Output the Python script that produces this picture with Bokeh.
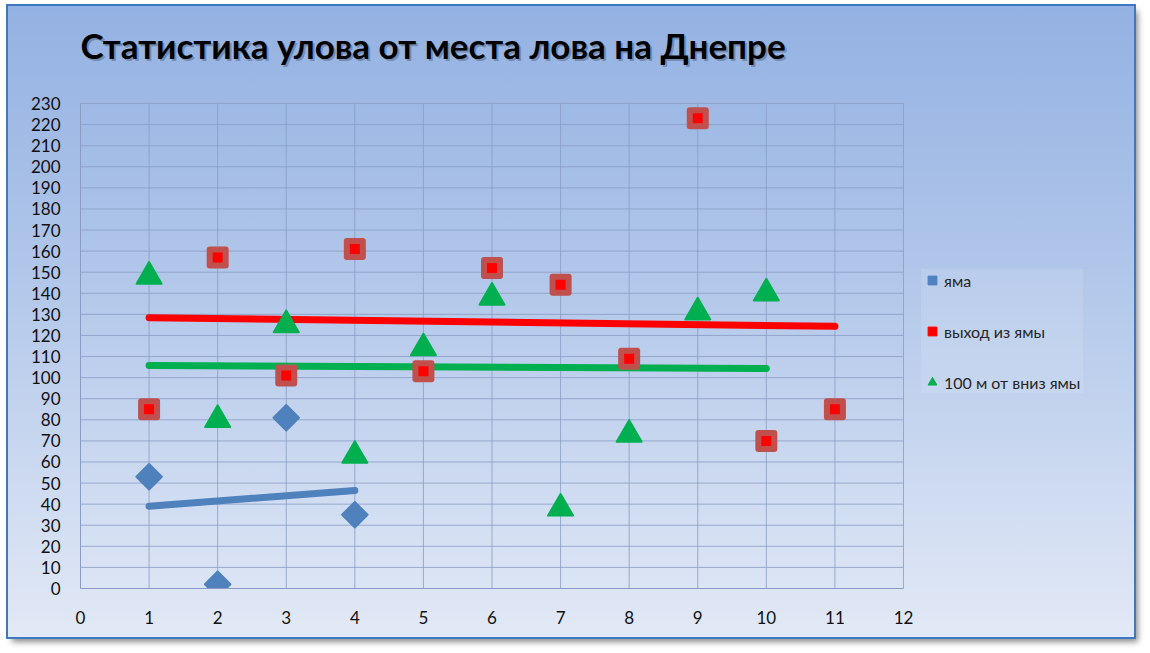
import numpy as np
from bokeh.plotting import figure
from bokeh.models import Range1d, FixedTicker, Legend, LegendItem, Label
from bokeh.embed import file_html
from bokeh.resources import INLINE

title_text = "Статистика улова от места лова на Днепре"

x_ticks = list(range(0, 13))
y_ticks = list(range(0, 231, 10))

yama_x = [1, 2, 3, 4]
yama_y = [53, 2, 81, 35]

vyhod_x = [1, 2, 3, 4, 5, 6, 7, 8, 9, 10, 11]
vyhod_y = [85, 157, 101, 161, 103, 152, 144, 109, 223, 70, 85]

niz_x = [1, 2, 3, 4, 5, 6, 7, 8, 9, 10]
niz_y = [148, 80, 125, 63, 114, 138, 38, 73, 131, 140]

names = ["яма", "выход из ямы", "100 м от вниз ямы"]

BLUE = "#4f81bd"
RED = "#ff0000"
RED_EDGE = "#c0504d"
GREEN = "#00b050"
GRID = "#8a9cc4"
FONT = "Lato"

# layout: the gridded area is 823 x 485 px; the frame extends further right (legend)
# and further up (title) so that these are not clipped
W, H = 1126, 631
LEFT, RIGHT, TOP, BOTTOM = 72, 14, 10, 49
GRID_W, GRID_H = 823, 485
FRAME_W = W - LEFT - RIGHT
FRAME_H = H - TOP - BOTTOM
X_MAX = x_ticks[-1]
Y_MAX = y_ticks[-1]
x_end = X_MAX * FRAME_W / GRID_W
y_end = Y_MAX * FRAME_H / GRID_H

p = figure(width=W, height=H, output_backend="svg", toolbar_location=None,
           x_range=Range1d(0, x_end), y_range=Range1d(0, y_end),
           min_border_left=LEFT, min_border_right=RIGHT, min_border_top=TOP, min_border_bottom=BOTTOM)
p.background_fill_color = None
p.border_fill_color = None
p.outline_line_color = None
p.styles = {
    "margin": "6px 0 0 8px",
    "background": "linear-gradient(to bottom, #93b1e2 0%, #b3c8ea 45%, #e2e9f6 100%)",
    "outline": "2px solid #3f78c2",
    "box-shadow": "4px 5px 6px rgba(0,0,0,0.45)",
}

for ax in (p.xaxis[0], p.yaxis[0]):
    ax.major_tick_line_color = None
    ax.minor_tick_line_color = None
    ax.axis_line_color = GRID
    ax.major_label_text_font = FONT
    ax.major_label_text_font_size = "17px"
    ax.major_label_text_color = "#111111"
p.xaxis.ticker = FixedTicker(ticks=x_ticks)
p.xaxis.bounds = (0, X_MAX)
p.yaxis.ticker = FixedTicker(ticks=y_ticks)
p.yaxis.bounds = (0, Y_MAX)
p.xaxis.major_label_standoff = 16
p.yaxis.major_label_standoff = 14

p.xgrid.visible = False
p.ygrid.visible = False
# grid lines only across the gridded area
p.segment(x0=[x_ticks[0]] * len(y_ticks), y0=y_ticks, x1=[X_MAX] * len(y_ticks), y1=y_ticks,
          line_color=GRID, line_alpha=0.8, line_width=1)
p.segment(x0=x_ticks, y0=[y_ticks[0]] * len(x_ticks), x1=x_ticks, y1=[Y_MAX] * len(x_ticks),
          line_color=GRID, line_alpha=0.8, line_width=1)

# linear trend lines fitted to each series
def trend(xs, ys):
    k, b = np.polyfit(xs, ys, 1)
    xx = [min(xs), max(xs)]
    return xx, [k * v + b for v in xx]

for xs, ys, c in ((yama_x, yama_y, BLUE), (vyhod_x, vyhod_y, RED), (niz_x, niz_y, GREEN)):
    tx, ty = trend(xs, ys)
    p.line(tx, ty, line_color=c, line_width=7, line_cap="round")

# points
p.scatter(yama_x, yama_y, marker="square", angle=np.pi / 4, size=18,
          fill_color=BLUE, line_color=BLUE, line_width=2, line_join="round")
p.scatter(vyhod_x, vyhod_y, marker="square", size=16, fill_color=RED,
          line_color=RED_EDGE, line_width=6, line_join="round")
p.scatter(niz_x, niz_y, marker="triangle", size=25, fill_color=GREEN,
          line_color=GREEN, line_width=2, line_join="round")

# legend proxies (hidden in the plot, drawn only as legend glyphs)
lg1 = p.scatter(yama_x, yama_y, marker="square", angle=np.pi / 4,
                fill_color=BLUE, line_color=BLUE, visible=False)
lg2 = p.scatter(vyhod_x, vyhod_y, marker="square", fill_color=RED, line_color=RED, visible=False)
lg3 = p.scatter(niz_x, niz_y, marker="triangle", fill_color=GREEN, line_color=GREEN, visible=False)
legend = Legend(items=[LegendItem(label=names[0], renderers=[lg1]),
                       LegendItem(label=names[1], renderers=[lg2]),
                       LegendItem(label=names[2], renderers=[lg3])],
                location=(841, 195), glyph_width=22, glyph_height=22, label_height=22,
                label_width=139, label_standoff=1, spacing=29, padding=10, margin=0,
                label_text_font=FONT, label_text_font_size="16px", label_text_color="#262626",
                background_fill_color="white", background_fill_alpha=0.12,
                border_line_color=None, click_policy="none")
p.add_layout(legend, "center")

# title (with a soft shadow), placed in screen units above the gridded area
p.add_layout(Label(x=2, y=542, x_units="screen", y_units="screen", text=title_text,
                   text_font=FONT, text_font_style="bold", text_font_size="35px",
                   text_color="#4a5670", text_alpha=0.45, text_baseline="alphabetic"))
p.add_layout(Label(x=0, y=544, x_units="screen", y_units="screen", text=title_text,
                   text_font=FONT, text_font_style="bold", text_font_size="35px",
                   text_color="#000000", text_baseline="alphabetic"))

open("out.html", "w").write(file_html(p, INLINE))
